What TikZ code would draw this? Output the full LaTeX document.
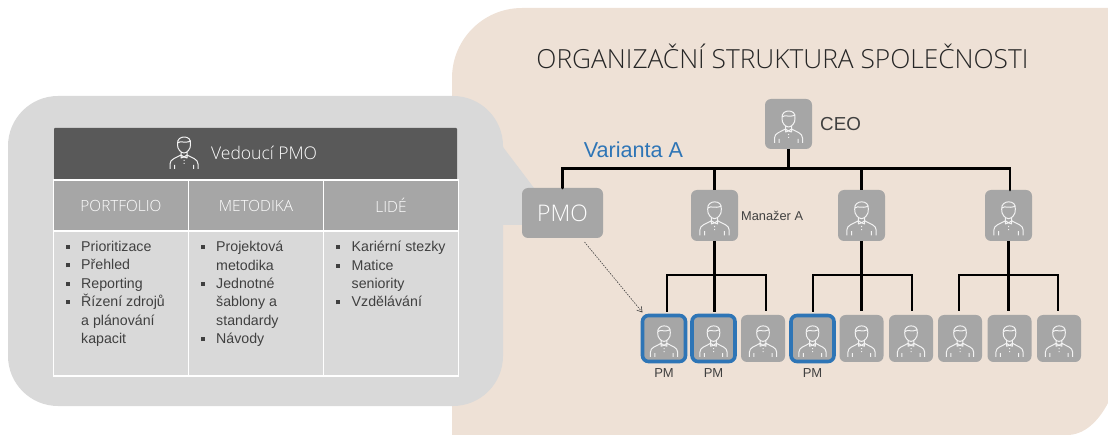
\documentclass[tikz,border=0pt]{standalone}
\usepackage{fontspec}
\usetikzlibrary{positioning, arrows.meta}
\setmainfont{Liberation Sans}
\newfontfamily\lightfont{Open Sans Light}

\definecolor{beige}{HTML}{EEE1D6}
\definecolor{bubblegray}{HTML}{D9D9D9}
\definecolor{boxgray}{HTML}{A6A6A6}
\definecolor{headgray}{HTML}{595959}
\definecolor{txtgray}{HTML}{404040}
\definecolor{pmblue}{HTML}{2E75B6}

\newcommand{\bl}{\makebox[15.5pt][l]{\raisebox{2.5pt}{\rule{4pt}{4pt}}}}
\newcommand{\cont}{\hspace*{15.5pt}}

\tikzset{
    personicon/.pic={
        \draw[white!95!black, line width=1pt, line join=round]
        (-6.5,-6) .. controls (-7,-11) and (-3,-13) .. (0,-13) .. controls (4,-13) and (7,-11) .. (6.5,-6) .. controls (7,-1) and (3,3) .. (0,3) .. controls (-3,3) and (-7,-1) .. (-6.5,-6)
        (-6.5,-7) .. controls (-3,-10) and (0,-6) .. (6.5,-9)
        (-3,2) -- (-3,5) (3,2) -- (3,5)
        (-3,5) -- (0,7) -- (3,5) -- (3,8) -- (0,7) -- (-3,8) -- cycle
        (-14,19) -- (-14,14) .. controls (-14,9) and (-8,8) .. (-3,5)
        (14,19) -- (14,14) .. controls (14,9) and (8,8) .. (3,5)
        (-9.5,19) -- (-9.5,15) (9.5,19) -- (9.5,15)
        (0,10) -- (0,11) (0,13) -- (0,14);
    },
    orgbox/.style={fill=boxgray, rounded corners=6pt, inner sep=0pt, outer sep=0pt},
    mgrbox/.style={orgbox, minimum width=47pt, minimum height=51pt},
    staffbox/.style={orgbox, minimum width=44pt, minimum height=47pt},
    pmbox/.style={orgbox, draw=pmblue, line width=3.6pt, minimum width=43pt, minimum height=46pt},
    orgline/.style={line width=2.7pt, black},
    tabhead/.style={fill=boxgray, draw=white, line width=1.5pt, text=white, minimum width=135pt, minimum height=51pt, inner sep=0pt, outer sep=0pt, font=\lightfont\fontsize{15.4}{18}\selectfont},
    tabcell/.style={fill=bubblegray, draw=white, line width=1.5pt, minimum width=135pt, minimum height=145pt, inner sep=0pt, outer sep=0pt},
    celltext/.style={anchor=north west, inner sep=0pt, align=left, text=txtgray, font=\fontsize{14.2}{18.4}\selectfont},
    pmlabel/.style={inner sep=0pt, text=txtgray, font=\fontsize{13}{15}\selectfont}
}

\begin{document}
\begin{tikzpicture}[x=1pt, y=-1pt]
    \useasboundingbox (0,0) rectangle (1108,435);

    % backgrounds
    \fill[beige] (452,435) [rounded corners=70pt] -- (452,8) [sharp corners] -- (1108,8) -- (1108,403) .. controls (1098,422) and (1084,435) .. (1067,435) -- cycle;
    \fill[bubblegray] (503,147) -- (534,188) -- (534,225) -- (503,225) -- cycle;
    \fill[bubblegray, rounded corners=50pt] (8,96) rectangle (503,406);

    % table
    \node[fill=headgray, rounded corners=1pt, minimum width=403pt, minimum height=52pt, inner sep=0pt] (headbar) at (255.5,154) {};
    \node[tabhead] (hportfolio) at (121,205.5) {PORTFOLIO};
    \node[tabhead, right=0pt of hportfolio] (hmetodika) {METODIKA};
    \node[tabhead, right=0pt of hmetodika] (hlide) {LIDÉ};
    \node[tabcell, below=0pt of hportfolio] (cportfolio) {};
    \node[tabcell, below=0pt of hmetodika] (cmetodika) {};
    \node[tabcell, below=0pt of hlide] (clide) {};
    \pic at (184,150) {personicon};
    \node[anchor=west, inner sep=0pt, text=white, font=\lightfont\fontsize{17.5}{21}\selectfont] (vedouci) at (211,153) {Vedoucí PMO};

    \node[celltext] (tportfolio) at (65.5,241) {\bl Prioritizace\\\bl Přehled\\\bl Reporting\\\bl Řízení zdrojů\\\cont a plánování\\\cont kapacit};
    \node[celltext] (tmetodika) at (200.5,241) {\bl Projektová\\\cont metodika\\\bl Jednotné\\\cont šablony a\\\cont standardy\\\bl Návody};
    \node[celltext] (tlide) at (336,241) {\bl Kariérní stezky\\\bl Matice\\\cont seniority\\\bl Vzdělávání};

    % org chart
    \node[anchor=center, inner sep=0pt, text=black!85, font=\lightfont\fontsize{26.3}{31}\selectfont] (title) at (782.5,56) {ORGANIZAČNÍ STRUKTURA SPOLEČNOSTI};
    \node[inner sep=0pt, text=pmblue, font=\fontsize{21.6}{25}\selectfont] (varianta) at (633.5,150) {Varianta A};

    \node[mgrbox, minimum height=50pt] (ceo) at (788.5,124) {};
    \node[orgbox, minimum width=81pt, minimum height=50pt, text=white, font=\lightfont\fontsize{22.9}{27}\selectfont] (pmo) at (562.5,213) {PMO};
    \node[mgrbox] (mgra) at (714.5,215.5) {};
    \node[mgrbox] (mgrb) at (861.5,215.5) {};
    \node[mgrbox] (mgrc) at (1008.5,215.5) {};

    \node[pmbox] (pma) at (664,338.5) {};
    \node[pmbox] (pmb) at (713.5,338.5) {};
    \node[staffbox] (pmc) at (763,338.5) {};
    \node[pmbox] (pmd) at (812.5,338.5) {};
    \node[staffbox] (pme) at (861.5,338.5) {};
    \node[staffbox] (pmf) at (911,338.5) {};
    \node[staffbox] (pmg) at (960,338.5) {};
    \node[staffbox] (pmh) at (1009.5,338.5) {};
    \node[staffbox] (pmi) at (1059,338.5) {};

    \node[inner sep=0pt, text=txtgray, font=\fontsize{18.8}{22}\selectfont, right=8pt of ceo] (ceolabel) {CEO};
    \node[inner sep=0pt, text=txtgray, font=\fontsize{12.8}{15}\selectfont, right=3pt of mgra] (mgrlabel) {Manažer A};
    \node[pmlabel, below=7pt of pma] (pmlabela) {PM};
    \node[pmlabel, below=7pt of pmb] (pmlabelb) {PM};
    \node[pmlabel, below=7pt of pmd] (pmlabeld) {PM};

    \foreach \who/\sc in {ceo/1, mgra/1.05, mgrb/1.05, mgrc/1.05, pma/.97, pmb/.97, pmc/.97, pmd/.97, pme/.97, pmf/.97, pmg/.97, pmh/.97, pmi/.97}
        \pic[scale=\sc] at (\who) {personicon};

    % connectors
    \coordinate (busl) at (pmo.north |- 0,168.5);
    \coordinate (busr) at (1010,168.5);
    \draw[orgline] (ceo.south) -- (ceo.south |- busl);
    \draw[orgline, line cap=round] (pmo.north) -- (busl) -- (busr) -- (busr |- mgrc.north);
    \draw[orgline] (mgra.north |- busl) -- (mgra.north);
    \draw[orgline] (mgrb.north |- busl) -- (mgrb.north);
    \foreach \mgr/\la/\lb/\lc/\oa/\oc in {mgra/pma/pmb/pmc/3/3, mgrb/pmd/pme/pmf/.5/1, mgrc/pmg/pmh/pmi/-1/-1} {
        \draw[orgline, shorten >=3.5pt] (\mgr.south) -- (\mgr.south |- \lb.north);
        \draw[orgline, shorten >=3.5pt] ([yshift=-34pt]\mgr.south) -| ([xshift=\oa pt]\la.north);
        \draw[orgline, shorten >=3.5pt] ([yshift=-34pt]\mgr.south) -| ([xshift=\oc pt]\lc.north);
    }
    \draw[-{Straight Barb[length=5pt,width=6pt]}, dash pattern=on 1.5pt off 1.2pt, line width=.6pt, txtgray] ([xshift=22pt,yshift=-4pt]pmo.south) -- ([yshift=3pt]pma.north west);
\end{tikzpicture}
\end{document}
